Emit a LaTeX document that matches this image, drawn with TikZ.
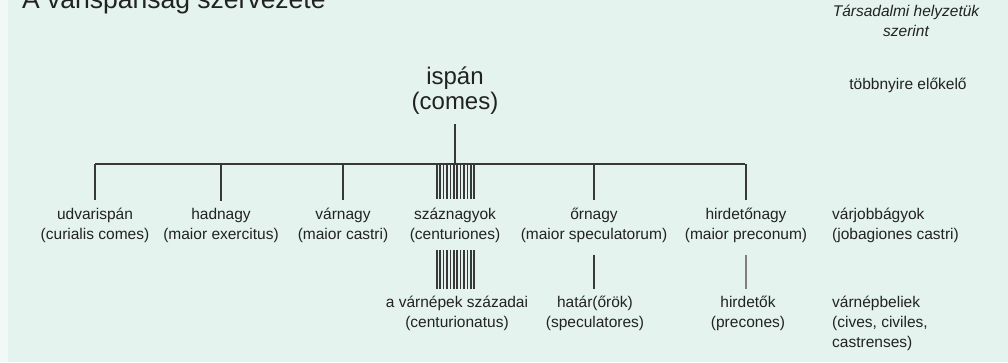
\documentclass[tikz,border=0pt]{standalone}
\usepackage{fontspec}
\setmainfont{Liberation Sans}
\definecolor{bg}{HTML}{E4F3EE}
\definecolor{bgl}{HTML}{F1F9F6}
\definecolor{ink}{HTML}{222222}
\definecolor{lineink}{HTML}{383838}
\tikzset{
  lbl/.style={font=\fontsize{15.5}{20}\selectfont, align=center, inner sep=0pt, text=ink},
  lblL/.style={font=\fontsize{15.5}{20}\selectfont, align=left, inner sep=0pt, text=ink, anchor=west},
  conn/.style={draw=lineink, line width=1.2pt},
  hatchbox/.style={inner sep=0pt, minimum width=40pt, draw=none},
  hatch/.style={draw=lineink, line width=1.5pt}
}
\begin{document}
\begin{tikzpicture}[x=1pt,y=-1pt]
\clip (0,0) rectangle (1008,362);
\fill[bg] (0,0) rectangle (1008,362);
\fill[bgl] (0,0) rectangle (8,362);
% title (cut at top, as in the reference)
\node[anchor=base west, inner sep=0pt, font=\fontsize{26.5}{30}\selectfont, text=ink] (title) at (22,8) {A várispánság szervezete};
% right header
\node[lbl, font=\itshape\fontsize{15.5}{20}\selectfont] (hdr) at (906,21) {Társadalmi helyzetük\\szerint};
\node[lbl] (elokelo) at (908,85) {többnyire előkelő};
% root
\node[lbl, font=\fontsize{24}{25}\selectfont] (ispan) at (455,91) {ispán\\(comes)};
% bar
\coordinate (barL) at (95,164);
\coordinate (barR) at (745,164);
% row 1
\node[lbl] (udv) at (95,225) {udvarispán\\(curialis comes)};
\node[lbl] (had) at (221,225) {hadnagy\\(maior exercitus)};
\node[lbl] (var) at (343,225) {várnagy\\(maior castri)};
\node[lbl] (szaz) at (455,225) {száznagyok\\(centuriones)};
\node[lbl] (or) at (594,225) {őrnagy\\(maior speculatorum)};
\node[lbl] (hird) at (746,225) {hirdetőnagy\\(maior preconum)};
\node[lblL] (varjob) at (832,225) {várjobbágyok\\(jobagiones castri)};
% row 3
\node[lbl] (szazadai) at (457,313) {a várnépek századai\\(centurionatus)};
\node[lbl] (hatar) at (595,313) {határ(őrök)\\(speculatores)};
\node[lbl] (hirdetok) at (748,313) {hirdetők\\(precones)};
\node[lblL] (varnep) at (832,323) {várnépbeliek\\(cives, civiles,\\castrenses)};
% hatched blocks
\node[hatchbox, minimum height=35pt] (h1) at (456,181.5) {};
\node[hatchbox, minimum height=39pt] (h2) at (456,269.5) {};
\foreach \i in {0,...,11} {
  \draw[hatch] ([xshift=\i*3.4pt+1pt]h1.north west) -- ([xshift=\i*3.4pt+1pt]h1.south west);
  \draw[hatch] ([xshift=\i*3.4pt+1pt]h2.north west) -- ([xshift=\i*3.4pt+1pt]h2.south west);
}
% connectors
\draw[conn] (barL) -- (barR);
\draw[conn, shorten <=9pt] (ispan.south) -- (ispan.south |- barL);
\draw[conn, shorten >=7pt] (udv.north |- barL) -- (udv.north);
\draw[conn, shorten >=7pt] (had.north |- barL) -- (had.north);
\draw[conn, shorten >=7pt] (var.north |- barL) -- (var.north);
\draw[conn, shorten >=7pt] (or.north |- barL) -- (or.north);
\draw[conn, shorten >=7pt] (hird.north |- barL) -- (hird.north);
\draw[conn, shorten <=12pt, shorten >=6pt] (or.south) -- (or.south |- hatar.north);
\draw[conn, draw=gray, shorten <=12pt, shorten >=6pt] (hird.south) -- (hird.south |- hirdetok.north);
\end{tikzpicture}
\end{document}
